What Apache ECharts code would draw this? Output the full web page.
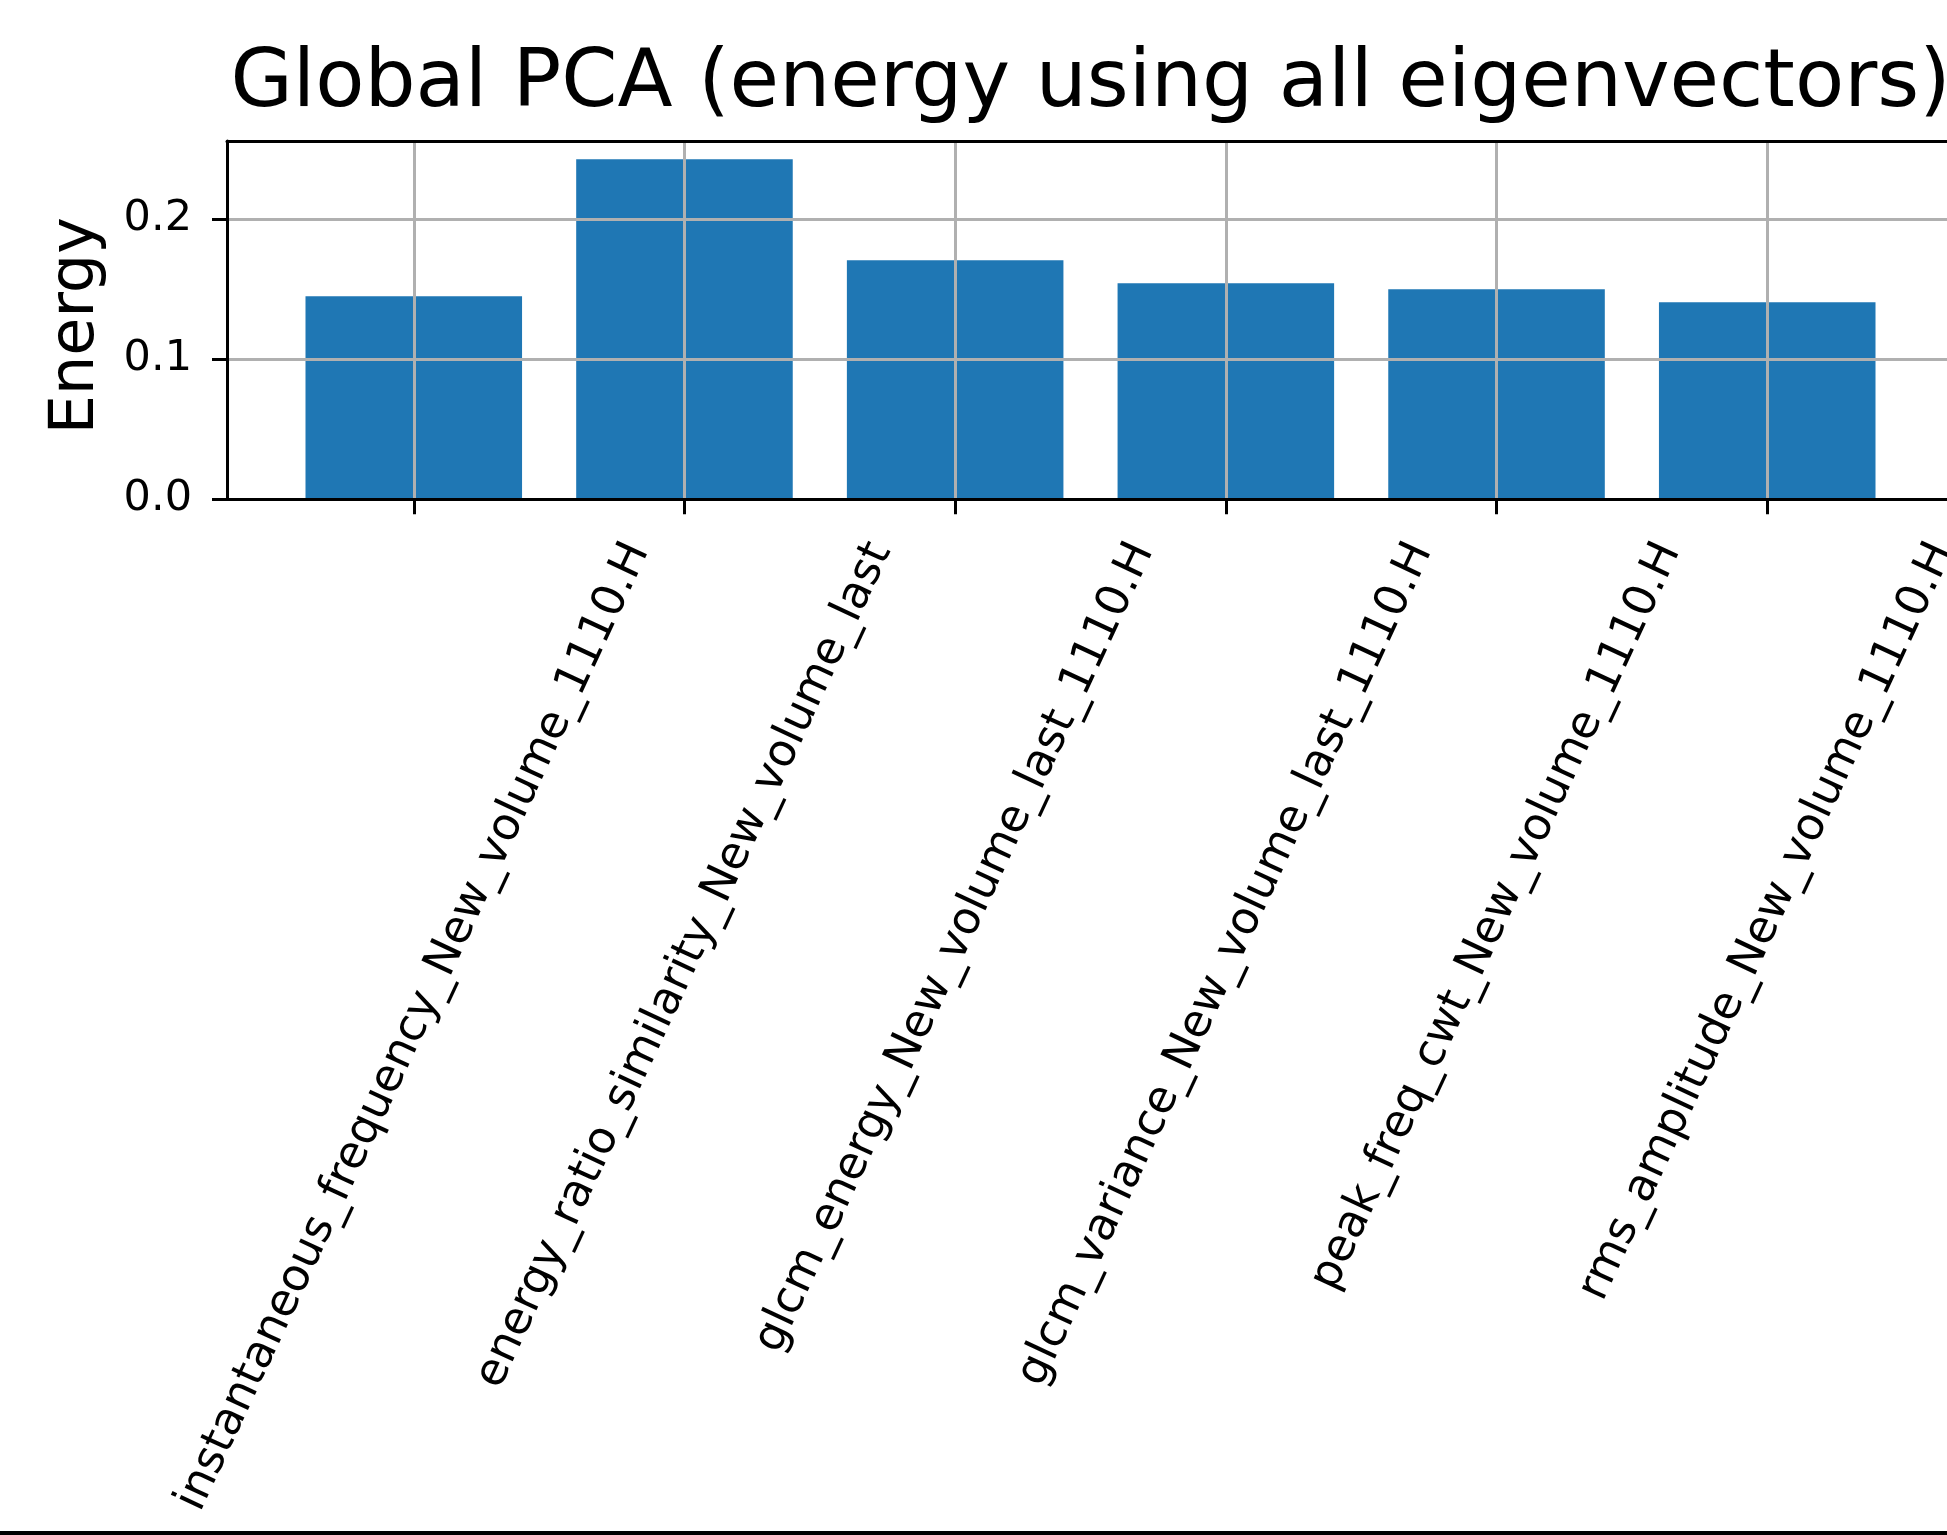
<!DOCTYPE html>
<html>
<head>
<meta charset="utf-8">
<script src="https://cdn.jsdelivr.net/npm/echarts@6.0.0/dist/echarts.min.js"></script>
<style>
html, body { margin: 0; padding: 0; background: #ffffff; }
#chart { width: 1947px; height: 1535px; }
</style>
</head>
<body>
<div id="chart"></div>
<script>
// ---------------- data ----------------
const categories = [
  'instantaneous_frequency_New_volume_1110.H',
  'energy_ratio_similarity_New_volume_last',
  'glcm_energy_New_volume_last_1110.H',
  'glcm_variance_New_volume_last_1110.H',
  'peak_freq_cwt_New_volume_1110.H',
  'rms_amplitude_New_volume_1110.H'
];
const energy = [0.1449, 0.2426, 0.1706, 0.1542, 0.1499, 0.1406];
const yTickValues = [0.0, 0.1, 0.2];
const titleText = 'Global PCA (energy using all eigenvectors)';
const yAxisName = 'Energy';

// ---------------- layout / style ----------------
const W = 1947, H = 1535;
const FONT = 'DejaVu Sans';
const gridLeft = 227, gridTop = 141, axisBottomY = 499.3, gridRightX = 1954;
const xPad = 0.69;
const xMin = -xPad, xMax = categories.length - 1 + xPad;
const yMax = 0.2556;
const labelSize = 45;
const ROT = 65;
const labelMargin = 46;

const xIdx = categories.map((_, i) => i);
const pxPerUnit = (gridRightX - gridLeft) / (xMax - xMin);
const barW = 0.8 * pxPerUnit;

// rotated labels centred on tick like matplotlib (ha='center')
const ctx = document.createElement('canvas').getContext('2d');
ctx.font = labelSize + 'px "' + FONT + '"';
const sn = Math.sin(ROT * Math.PI / 180), cs = Math.cos(ROT * Math.PI / 180);
const rich = {};
categories.forEach((name, i) => {
  const L = ctx.measureText(name).width;
  const delta = L * sn / 2;
  rich['r' + i] = {
    fontFamily: FONT, fontSize: labelSize, color: '#000000',
    padding: [2 * delta * cs, 2 * delta * sn, 0, 0]
  };
});

const chart = echarts.init(document.getElementById('chart'), null, { renderer: 'canvas', width: W, height: H });

chart.setOption({
  animation: false,
  backgroundColor: '#ffffff',
  title: {
    text: titleText,
    left: (gridLeft + gridRightX) / 2,
    top: 45,
    textAlign: 'center',
    padding: 0,
    textStyle: { fontFamily: FONT, fontSize: 80.5, fontWeight: 'normal', color: '#000000' }
  },
  grid: {
    left: gridLeft, top: gridTop, right: W - gridRightX, bottom: H - axisBottomY,
    containLabel: false, outerBoundsMode: 'none'
  },
  xAxis: [{
    type: 'value', min: xMin, max: xMax, position: 'bottom', z: 3,
    axisLine: { show: true, onZero: false, lineStyle: { color: '#000000', width: 3 } },
    axisTick: { show: true, length: 15, customValues: xIdx, lineStyle: { color: '#000000', width: 3 } },
    axisLabel: {
      show: true, customValues: xIdx, rotate: ROT, align: 'center', verticalAlign: 'middle',
      margin: labelMargin, fontFamily: FONT, fontSize: labelSize, color: '#000000',
      formatter: (v) => { const i = Math.round(v); return '{r' + i + '|' + categories[i] + '}'; },
      rich: rich
    },
    splitLine: { show: true, lineStyle: { color: '#b0b0b0', width: 3 } }
  }, {
    type: 'value', min: xMin, max: xMax, position: 'top', z: 3,
    axisLine: { show: true, onZero: false, lineStyle: { color: '#000000', width: 3 } },
    axisTick: { show: false }, axisLabel: { show: false }, splitLine: { show: false }
  }],
  yAxis: {
    type: 'value', min: 0, max: yMax, interval: 0.1, z: 3,
    name: yAxisName, nameLocation: 'middle', nameGap: 119,
    nameTextStyle: { fontFamily: FONT, fontSize: 62, color: '#000000', padding: [0, 11, 0, 0] },
    axisLine: { show: true, onZero: false, lineStyle: { color: '#000000', width: 3 } },
    axisTick: { show: true, length: 15, customValues: yTickValues, lineStyle: { color: '#000000', width: 3 } },
    axisLabel: {
      show: true, customValues: yTickValues, margin: 35,
      fontFamily: FONT, fontSize: 43, color: '#000000',
      formatter: (v) => v.toFixed(1)
    },
    splitLine: { show: true, lineStyle: { color: '#b0b0b0', width: 3 } }
  },
  series: [{
    type: 'bar',
    xAxisIndex: 0, yAxisIndex: 0,
    data: xIdx.map(i => [i, energy[i]]),
    barWidth: barW,
    itemStyle: { color: '#1f77b4' },
    z: 2
  }],
  graphic: [{
    type: 'rect', left: 0, bottom: 0,
    shape: { width: W, height: 4 },
    style: { fill: '#000000' }
  }]
});
</script>
</body>
</html>
